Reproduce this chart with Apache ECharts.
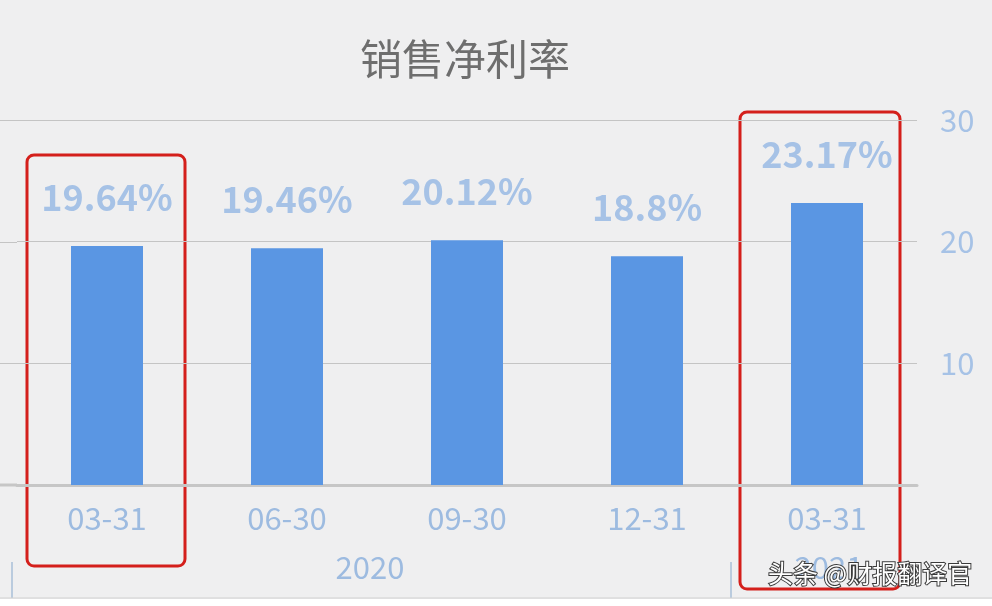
<!DOCTYPE html>
<html>
<head>
<meta charset="utf-8">
<title>销售净利率</title>
<script src="https://cdn.jsdelivr.net/npm/echarts@6/dist/echarts.min.js"></script>
<style>
	html, body { margin: 0; padding: 0; background: #fff; }
	#chart { width: 992px; height: 606px; }
</style>
</head>
<body>
<div id="chart"></div>
<script>
'use strict';

// 数据
var categories = ['03-31', '06-30', '09-30', '12-31', '03-31'];
var netMargin = [19.64, 19.46, 20.12, 18.8, 23.17];
var yearLabels = ['2020', '2021'];

var labelBlue = '#a6c2e6';
var font = 'Noto Sans CJK SC';

var myChart = echarts.init(document.getElementById('chart'));

var option = {
	backgroundColor: '#efeff0',
	textStyle: { fontFamily: font },
	title: {
		text: '销售净利率',
		left: 355,
		top: 33,
		textStyle: { fontSize: 42, fontWeight: 'normal', color: '#6e6e6e', fontFamily: font }
	},
	grid: { left: 17, right: 75, top: 120, bottom: 121 },
	xAxis: {
		type: 'category',
		data: categories,
		axisLine: { lineStyle: { color: '#c6c6c6', width: 3 } },
		axisTick: { show: false },
		axisLabel: { color: '#9dbbe0', fontSize: 31, margin: 18, fontFamily: font }
	},
	yAxis: {
		type: 'value',
		position: 'right',
		min: 0,
		max: 30,
		interval: 10,
		axisLine: { show: false },
		axisTick: { show: false },
		axisLabel: { color: labelBlue, fontSize: 31, margin: 23, showMinLabel: false, fontFamily: font },
		splitLine: { lineStyle: { color: '#c4c4c4', width: 1 } }
	},
	series: [{
		type: 'bar',
		data: netMargin,
		barWidth: 72,
		itemStyle: { color: '#5a96e3' },
		label: {
			show: true,
			position: 'top',
			distance: 31,
			formatter: '{c}%',
			color: labelBlue,
			fontSize: 36,
			fontWeight: 600,
			fontFamily: font
		}
	}],
	graphic: [
		// 网格线向左延伸到边缘
		{ type: 'line', shape: { x1: 0, y1: 120.5, x2: 17, y2: 120.5 }, style: { stroke: '#c4c4c4', lineWidth: 1 } },
		{ type: 'line', shape: { x1: 0, y1: 242.5, x2: 17, y2: 242.5 }, style: { stroke: '#c4c4c4', lineWidth: 1 } },
		{ type: 'line', shape: { x1: 0, y1: 363.5, x2: 17, y2: 363.5 }, style: { stroke: '#c4c4c4', lineWidth: 1 } },
		{ type: 'line', shape: { x1: 0, y1: 485, x2: 17, y2: 485 }, style: { stroke: '#c6c6c6', lineWidth: 3 } },
		// 年份
		{ type: 'text', x: 370, y: 567, style: { text: yearLabels[0], fill: '#9dbbe0', font: '31px "' + font + '"', align: 'center', verticalAlign: 'middle' } },
		{ type: 'text', x: 829, y: 567, style: { text: yearLabels[1], fill: '#9dbbe0', font: '31px "' + font + '"', align: 'center', verticalAlign: 'middle' } },
		{ type: 'line', shape: { x1: 12, y1: 562, x2: 12, y2: 598 }, style: { stroke: '#a9bfd9', lineWidth: 1.5 } },
		{ type: 'line', shape: { x1: 731, y1: 562, x2: 731, y2: 598 }, style: { stroke: '#a9bfd9', lineWidth: 1.5 } },
		{ type: 'line', shape: { x1: 0, y1: 598, x2: 992, y2: 598 }, style: { stroke: '#d0d0d0', lineWidth: 1 } },
		{ type: 'rect', shape: { x: 0, y: 599, width: 992, height: 7 }, style: { fill: '#ffffff' } },
		// 红框
		{ type: 'rect', shape: { x: 27, y: 155, width: 158, height: 411, r: 7 }, style: { fill: 'none', stroke: '#d41f1b', lineWidth: 3 } },
		{ type: 'rect', shape: { x: 740, y: 112, width: 160, height: 477, r: 7 }, style: { fill: 'none', stroke: '#d41f1b', lineWidth: 3 } },
		// 水印
		{ type: 'text', left: 767, top: 560, style: { text: '头条 @财报翻译官', fill: '#ffffff', stroke: '#3a3a3a', lineWidth: 2, font: '25px "' + font + '"' } }
	]
};
myChart.setOption(option);
</script>
</body>
</html>
